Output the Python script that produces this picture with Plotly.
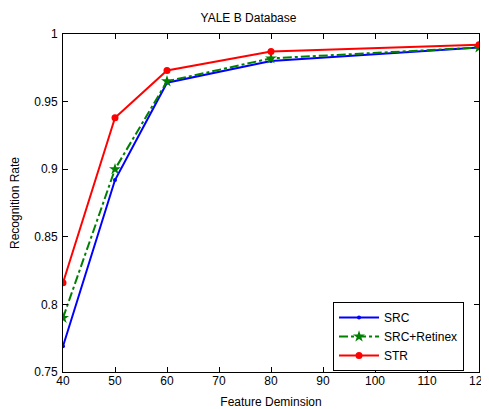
import plotly.graph_objects as go

feature_dims = [40, 50, 60, 80, 120]
src = [0.769, 0.892, 0.964, 0.980, 0.990]
src_retinex = [0.790, 0.900, 0.965, 0.982, 0.990]
str_vals = [0.816, 0.938, 0.973, 0.987, 0.992]

x_ticks = [40, 50, 60, 70, 80, 90, 100, 110, 120]
y_ticks = [0.75, 0.8, 0.85, 0.9, 0.95, 1.0]
y_tick_labels = ["0.75", "0.8", "0.85", "0.9", "0.95", "1"]

font = "Liberation Sans, Arial, Helvetica, sans-serif"

fig = go.Figure()
fig.add_trace(go.Scatter(
    x=feature_dims, y=src, name="SRC", mode="lines+markers",
    line=dict(color="#0000ff", width=2),
    marker=dict(symbol="circle", size=4, color="#0000ff")))
fig.add_trace(go.Scatter(
    x=feature_dims, y=src_retinex, name="SRC+Retinex", mode="lines+markers",
    line=dict(color="#008000", width=2, dash="dashdot"),
    marker=dict(symbol="star", size=9, color="#008000")))
fig.add_trace(go.Scatter(
    x=feature_dims, y=str_vals, name="STR", mode="lines+markers",
    line=dict(color="#ff0000", width=2),
    marker=dict(symbol="circle", size=7, color="#ff0000")))

axis_common = dict(showline=True, linecolor="black", linewidth=1, mirror="ticks",
                   ticks="inside", ticklen=5, tickcolor="black", showgrid=False,
                   zeroline=False, automargin=False, ticklabeloverflow="allow",
                   tickfont=dict(family=font, size=12, color="black"))

# page body has an 8px margin, so the figure is sized/offset to compensate
fig.update_layout(
    width=481, height=401,
    margin=dict(l=55, r=10, t=26, b=37, autoexpand=False),
    paper_bgcolor="white", plot_bgcolor="white",
    title=dict(text="YALE B Database", x=0.5, xanchor="center", y=0.975, yanchor="middle",
               font=dict(family=font, size=12, color="black")),
    xaxis=dict(range=[40, 120], tickvals=x_ticks, ticklabelstandoff=-2, **axis_common,
               title=dict(text="Feature Deminsion", font=dict(family=font, size=12, color="black"))),
    yaxis=dict(range=[0.75, 1.0], tickvals=y_ticks, ticktext=y_tick_labels, ticklabelstandoff=2,
               **axis_common,
               title=dict(text="Recognition Rate", font=dict(family=font, size=12, color="black"))),
    legend=dict(x=0.964, y=0.003, xanchor="right", yanchor="bottom",
                bgcolor="white", bordercolor="black", borderwidth=1,
                font=dict(family=font, size=12, color="black"),
                tracegroupgap=0, itemwidth=40),
    showlegend=True,
)

fig.write_html("out.html")
